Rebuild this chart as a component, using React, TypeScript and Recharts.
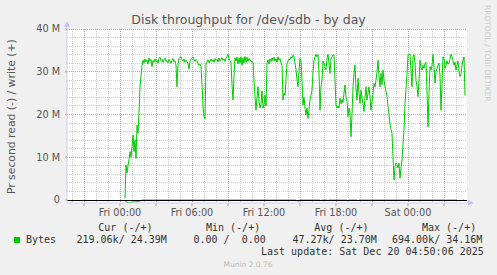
import React from 'react';
import { ComposedChart, Line, XAxis, YAxis, CartesianGrid, ReferenceLine, ReferenceDot } from 'recharts';

// Munin 5-minute samples, minutes since Fri 00:00
const START_MIN = 25;
const STEP_MIN = 5;

// write (+) in MB/s
const writeM = [
  0.4, 8.2, 6.3, 8.0, 9.5, 11.3, 10.0, 12.5, 15.2, 11.3, 14.0, 9.7, 17.5, 15.6, 20.5, 26.5, 29.0, 31.5, 32.7,
  32.0, 33.0, 32.3, 32.8, 31.8, 33.2, 32.5, 32.9, 31.2, 32.6, 32.2, 33.0, 32.4, 32.7, 32.0, 33.1, 33.4, 32.6,
  32.9, 32.2, 32.8, 33.2, 32.4, 32.6, 32.1, 32.9, 32.5, 32.0, 32.7, 33.1, 32.3, 32.6, 31.5, 26.5, 31.8, 33.0,
  33.4, 33.5, 32.8, 32.5, 33.0, 32.2, 32.7, 32.3, 32.0, 30.6, 32.5, 32.9, 33.2, 33.5, 32.8, 32.4, 32.9, 32.6,
  32.0, 31.5, 31.8, 31.2, 27.0, 22.0, 19.5, 19.0, 31.8, 32.3, 32.8, 32.1, 32.5, 33.0, 32.4, 32.8, 32.2, 33.1,
  32.6, 32.9, 32.3, 33.2, 32.5, 32.9, 33.3, 32.7, 33.0, 32.4, 33.2, 33.6, 34.1, 33.0, 32.6, 32.0, 27.0, 23.4,
  29.0, 33.2, 32.5, 33.4, 31.8, 33.2, 32.0, 33.5, 31.5, 33.3, 32.0, 33.6, 32.2, 33.4, 32.5, 33.1, 32.7, 32.5,
  32.3, 32.3, 28.0, 24.0, 21.0, 24.0, 26.5, 23.0, 21.5, 22.5, 25.5, 21.5, 22.2, 24.5, 22.0, 32.0,
  32.8, 31.8, 33.0, 32.4, 33.2, 32.6, 33.4, 32.5, 33.0, 32.2, 33.5, 32.7, 33.1, 32.0, 31.5,
  23.4, 25.0, 24.5, 28.0, 32.0, 32.5, 33.0, 32.8, 33.5, 33.2, 33.9, 33.5, 32.0, 30.4, 28.0, 26.5, 30.0, 33.1,
  32.5, 28.0, 22.2, 24.0, 21.5, 19.9, 21.5, 19.1, 21.0, 23.4, 24.5, 25.7, 30.0, 32.5, 33.5, 34.1, 33.5, 34.0,
  30.0, 21.0, 26.5, 28.0, 32.5, 32.0, 31.0, 30.5, 33.0, 34.1, 32.0, 29.6, 33.0, 33.5, 34.0, 33.9, 28.0, 22.2,
  21.5, 22.0, 21.5, 23.8, 22.5, 23.5, 22.8, 25.0, 26.9, 24.0, 23.4, 19.5, 21.5, 20.5, 14.8, 20.0, 26.5, 29.5,
  31.6, 26.0, 23.4, 28.5, 25.0, 22.6, 25.7, 24.0, 22.5, 20.7, 24.0, 26.5, 23.4, 25.0, 26.5, 24.0, 21.0, 23.0,
  25.0, 27.3, 26.5, 28.0, 30.0, 32.7, 29.0, 26.5, 29.6, 27.0, 30.4, 28.0, 26.5, 25.5, 24.2, 21.8, 20.0, 17.9,
  16.5, 15.6, 10.1, 4.7, 7.8, 8.6, 8.3, 7.5, 8.6, 5.1, 7.5, 9.4, 13.0, 16.5, 22.6, 26.0, 29.6, 33.9, 34.0,
  34.16, 30.0, 26.5, 33.5, 34.0, 32.0, 28.0, 26.5, 24.2, 28.0, 32.7, 31.0, 30.4, 31.5, 30.8, 32.0, 32.2, 25.0,
  17.1, 25.0, 31.2, 30.4, 31.5, 34.1, 31.0, 27.3, 30.0, 30.8, 31.5, 32.0, 29.0, 21.0, 27.0, 33.5, 33.0, 30.8,
  31.5, 32.6, 31.8, 32.0, 33.0, 34.1, 33.5, 32.5, 31.5, 32.2, 30.4, 31.5, 32.5, 30.0, 28.9, 29.5, 31.5, 32.7,
  33.5, 24.4,
];

// read (-) in kB/s: non-zero samples only (all others read 0)
const readSpikeMin = [25, 30, 35, 40, 45, 50, 55, 60, 65, 70, 75, 80, 85, 90, 95, 100, 105, 885, 890, 895, 1005, 1040, 1140, 1190, 1625, 1690, 1700, 1710, 1725];
const readSpikeK = [100, 450, 550, 600, 694, 620, 560, 500, 480, 450, 440, 400, 380, 340, 300, 250, 150, 200, 250, 150, 200, 180, 250, 220, 150, 200, 250, 200, 219.06];

const X_DOMAIN = [-265, 1735];
const Y_DOMAIN = [-0.7, 40];
const xMajorTicks = [-180, 0, 180, 360, 540, 720, 900, 1080, 1260, 1440, 1620];
const xLabelAt = [0, 360, 720, 1080, 1440];
const xLabelText = ['Fri 00:00', 'Fri 06:00', 'Fri 12:00', 'Fri 18:00', 'Sat 00:00'];
const yTicks = [0, 10, 20, 30, 40];
const yTickText = ['0', '10 M', '20 M', '30 M', '40 M'];
const xMinorGrid = Array.from({ length: 33 }, (_, i) => -240 + i * 60);
const yMinorGrid = Array.from({ length: 20 }, (_, i) => 2 + i * 2);

const legendHeads = ['Cur (-/+)', 'Min (-/+)', 'Avg (-/+)', 'Max (-/+)'];
const legendVals = ['219.06k/ 24.39M', '0.00 /  0.00', '47.27k/ 23.70M', '694.00k/ 34.16M'];

const data = writeM.map((w, i) => {
  const t = START_MIN + i * STEP_MIN;
  const k = readSpikeMin.indexOf(t);
  return { t, w, r: k >= 0 ? -readSpikeK[k] / 1000 : 0 };
});

const GREEN = '#00CC00';
const AXIS = '#CFCFEF';
const ARROW = '#C4C4F4';
const MGRID = '#E49A9A';
const SANS = "'DejaVu Sans', sans-serif";
const MONO = "'DejaVu Sans Mono', monospace";

const XArrow = (p: any) => {
  const { cx, cy } = p;
  return (
    <g>
      <line x1={cx} y1={cy} x2={cx + 2} y2={cy} stroke={AXIS} />
      <path d={`M${cx + 1},${cy - 3} L${cx + 7},${cy} L${cx + 1},${cy + 3} Z`} fill={ARROW} />
    </g>
  );
};
const YArrow = (p: any) => {
  const { cx, cy } = p;
  return (
    <g>
      <line x1={cx} y1={cy} x2={cx} y2={cy - 3} stroke={AXIS} />
      <path d={`M${cx - 3},${cy - 2} L${cx},${cy - 8} L${cx + 3},${cy - 2} Z`} fill={ARROW} />
    </g>
  );
};

export default function App() {
  const legendHeadX = [98.3, 206, 314.3, 422];
  const legendValX = [76.5, 193.5, 292.5, 392];
  return (
    <div style={{ position: 'absolute', left: 0, top: 0, width: 497, height: 275, background: '#F0F0F0' }}>
      <ComposedChart width={497} height={275} data={data} margin={{ top: 29, right: 30, left: 7, bottom: 52 }}>
        <CartesianGrid
          fill="#FFFFFF"
          stroke="#D2D2D2"
          strokeDasharray="1 1"
          verticalValues={xMinorGrid}
          horizontalValues={yMinorGrid}
          shapeRendering="crispEdges"
        />
        <CartesianGrid
          stroke={MGRID}
          strokeDasharray="1 1"
          verticalValues={xMajorTicks}
          horizontalValues={yTicks}
          shapeRendering="crispEdges"
        />
        <XAxis
          type="number"
          dataKey="t"
          domain={X_DOMAIN}
          ticks={xMajorTicks}
          interval={0}
          allowDataOverflow
          height={20}
          tickSize={3}
          tickMargin={3}
          axisLine={{ stroke: AXIS }}
          tickLine={{ stroke: MGRID }}
          tick={{ fill: '#555', fontSize: 9.7, fontFamily: SANS }}
          tickFormatter={(v: number) => {
            const k = xLabelAt.indexOf(v);
            return k >= 0 ? xLabelText[k] : '';
          }}
        />
        <YAxis
          type="number"
          domain={Y_DOMAIN}
          ticks={yTicks}
          interval={0}
          allowDataOverflow
          width={60}
          tickSize={2}
          tickMargin={5}
          axisLine={{ stroke: AXIS }}
          tickLine={{ stroke: MGRID }}
          tick={{ fill: '#555', fontSize: 9.7, fontFamily: SANS }}
          tickFormatter={(v: number) => yTickText[yTicks.indexOf(v)]}
        />
        <Line type="linear" dataKey="r" stroke={GREEN} strokeWidth={1} dot={false} isAnimationActive={false} />
        <Line type="linear" dataKey="w" stroke={GREEN} strokeWidth={1} dot={false} isAnimationActive={false} />
        <ReferenceLine y={0} stroke="#000000" strokeWidth={1} shapeRendering="crispEdges" />
        <ReferenceDot x={X_DOMAIN[1]} y={Y_DOMAIN[0]} ifOverflow="visible" shape={XArrow} />
        <ReferenceDot x={X_DOMAIN[0]} y={Y_DOMAIN[1]} ifOverflow="visible" shape={YArrow} />
      </ComposedChart>
      <svg width={497} height={275} style={{ position: 'absolute', left: 0, top: 0, pointerEvents: 'none' }}>
        <text x={248.5} y={24} textAnchor="middle" fontFamily={SANS} fontSize={12.5} fill="#555">
          Disk throughput for /dev/sdb - by day
        </text>
        <text
          x={15}
          y={116.7}
          textAnchor="middle"
          fontFamily={SANS}
          fontSize={10.8}
          fill="#555"
          transform="rotate(-90 15 116.7)"
        >
          Pr second read (-) / write (+)
        </text>
        <text x={485} y={5} fontFamily={SANS} fontSize={7.5} fill="#CCCCCC" transform="rotate(90 485 5)">
          RRDTOOL / TOBI OETIKER
        </text>
        {legendHeads.map((h, i) => (
          <text key={h} x={legendHeadX[i]} y={231} fontFamily={MONO} fontSize={10} fill="#333" style={{ whiteSpace: 'pre' }}>
            {h}
          </text>
        ))}
        <rect x={14} y={237} width={6} height={6} fill={GREEN} />
        <text x={26} y={243} fontFamily={MONO} fontSize={10} fill="#333">Bytes</text>
        {legendVals.map((v, i) => (
          <text key={v} x={legendValX[i]} y={243} fontFamily={MONO} fontSize={10} fill="#333" style={{ whiteSpace: 'pre' }}>
            {v}
          </text>
        ))}
        <text x={261} y={255.4} fontFamily={MONO} fontSize={10} fill="#333" style={{ whiteSpace: 'pre' }}>
          Last update: Sat Dec 20 04:50:06 2025
        </text>
        <text x={248} y={267} textAnchor="middle" fontFamily={SANS} fontSize={7.5} fill="#BBBBBB">
          Munin 2.0.76
        </text>
      </svg>
    </div>
  );
}
